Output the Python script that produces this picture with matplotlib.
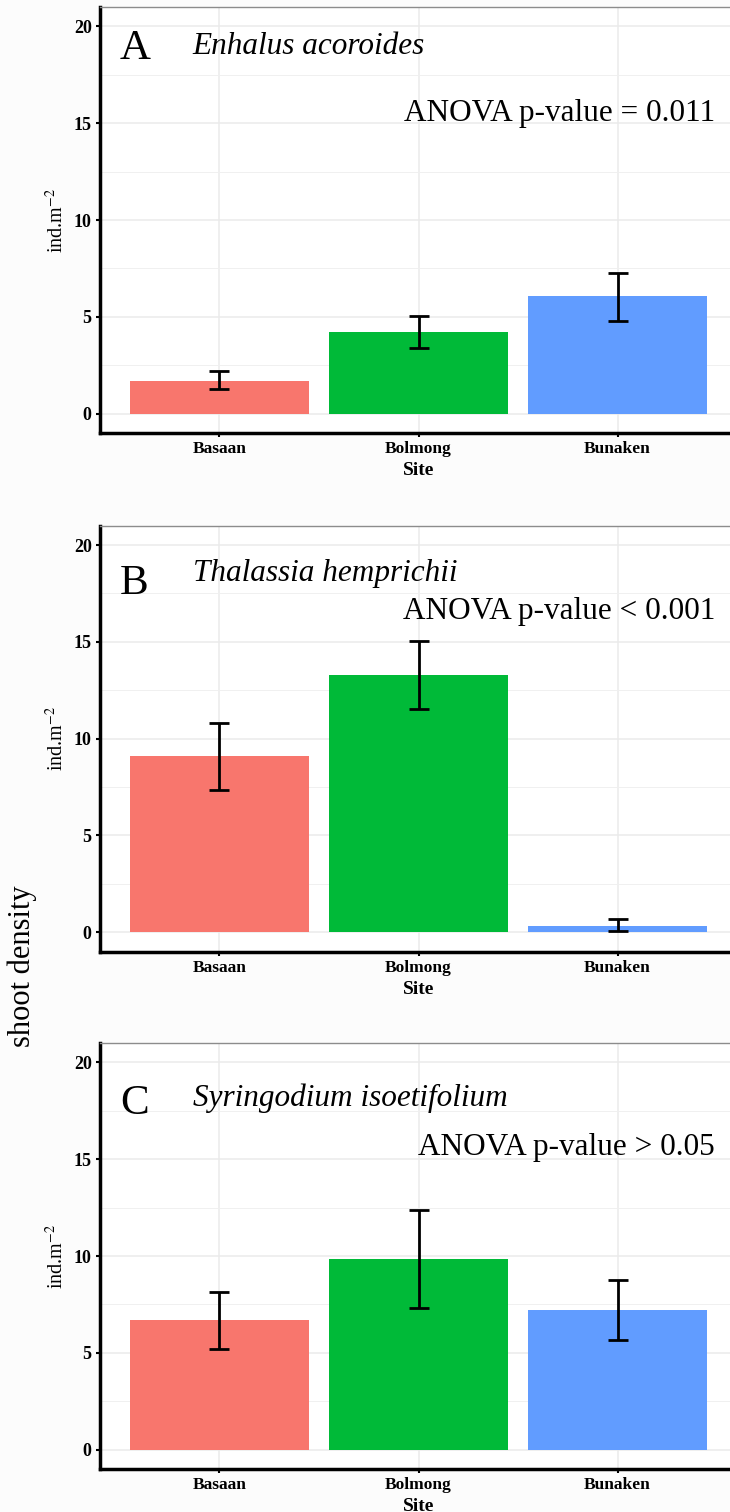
#!/usr/bin/env python
# -*- coding: utf-8 -*-

import matplotlib
matplotlib.use('Agg')
import numpy as np
import matplotlib.pyplot as plt
from matplotlib.ticker import MultipleLocator

plt.rcParams['font.family'] = ['Liberation Serif', 'DejaVu Serif']
plt.rcParams['mathtext.fontset'] = 'stix'

# Данные (средние и границы ошибок)
sites = ['Basaan', 'Bolmong', 'Bunaken']
colors = ['#F8766D', '#00BA38', '#619CFF']

enhalus_mean = [1.69, 4.23, 6.06]
enhalus_lo = [1.26, 3.37, 4.80]
enhalus_hi = [2.18, 5.05, 7.25]

thalassia_mean = [9.11, 13.30, 0.34]
thalassia_lo = [7.35, 11.54, 0.08]
thalassia_hi = [10.80, 15.07, 0.69]

syringodium_mean = [6.72, 9.83, 7.24]
syringodium_lo = [5.18, 7.34, 5.68]
syringodium_hi = [8.14, 12.37, 8.79]

letters = ['A', 'B', 'C']
species = ['Enhalus acoroides', 'Thalassia hemprichii', 'Syringodium isoetifolium']
anova = ['ANOVA p-value = 0.011', 'ANOVA p-value < 0.001', 'ANOVA p-value > 0.05']


def draw_panel(ax, mean, lo, hi, letter, name, ptext, letter_y, name_y, ptext_y):
    x = np.arange(1, len(sites) + 1)
    mean = np.array(mean)
    yerr = [mean - np.array(lo), np.array(hi) - mean]

    ax.set_axisbelow(True)
    ax.bar(x, mean, width=0.9, color=colors, zorder=2)
    ax.errorbar(x, mean, yerr=yerr, fmt='none', ecolor='black',
                elinewidth=2, capsize=7, capthick=2, zorder=3)

    ax.set_xlim(0.4, 3.6)
    ax.set_ylim(-1, 21)
    ax.set_xticks(x)
    ax.set_xticklabels(sites, fontsize=12.5, fontweight='bold')
    ax.yaxis.set_major_locator(MultipleLocator(5))
    ax.yaxis.set_minor_locator(MultipleLocator(2.5))
    for lab in ax.get_yticklabels():
        lab.set_fontsize(13)
        lab.set_fontweight('bold')

    ax.grid(True, which='major', color='#ebebeb', linewidth=1.1)
    ax.grid(True, which='minor', axis='y', color='#f0f0f0', linewidth=0.7)
    ax.tick_params(axis='both', which='major', length=3, width=1.5,
                   color='black', pad=3)
    ax.tick_params(axis='y', which='minor', length=0)

    ax.spines['left'].set_linewidth(2.5)
    ax.spines['bottom'].set_linewidth(2.5)
    ax.spines['left'].set_color('black')
    ax.spines['bottom'].set_color('black')
    ax.spines['top'].set_color('#8c8c8c')
    ax.spines['top'].set_linewidth(1)
    ax.spines['right'].set_color('#8c8c8c')

    ax.set_xlabel('Site', fontsize=14, fontweight='bold', va='top')
    ax.xaxis.set_label_coords(0.5, -0.068)
    ax.text(-0.068, 0.5, r'ind.m$^{-2}$', transform=ax.transAxes,
            rotation=90, ha='center', va='center', fontsize=14.5)

    # Подписи внутри панели
    ax.text(0.5, letter_y, letter, fontsize=31, ha='left', va='baseline')
    ax.text(0.865, name_y, name, fontsize=22.5, style='italic',
            ha='left', va='baseline')
    ax.text(3.49, ptext_y, ptext, fontsize=22.5, ha='right', va='baseline')


fig = plt.figure(figsize=(7.3, 15.12), dpi=100, facecolor='#fcfcfc')

left, width, height = 0.137, 0.8726, 0.2817
bottoms = [0.7136, 0.3706, 0.0284]

panels = [
    (enhalus_mean, enhalus_lo, enhalus_hi, 18.3, 18.6, 15.1),
    (thalassia_mean, thalassia_lo, thalassia_hi, 17.47, 18.16, 16.18),
    (syringodium_mean, syringodium_lo, syringodium_hi, 17.32, 17.73, 15.2),
]

for i, (m, lo, hi, ly, ny, py) in enumerate(panels):
    ax = fig.add_axes([left, bottoms[i], width, height])
    ax.set_facecolor('white')
    draw_panel(ax, m, lo, hi, letters[i], species[i], anova[i], ly, ny, py)

fig.text(22 / 730, 1 - 966 / 1512, 'shoot density', rotation=90,
         ha='center', va='center', fontsize=22)

fig.savefig('out.png', dpi=100, facecolor=fig.get_facecolor())
plt.close(fig)
